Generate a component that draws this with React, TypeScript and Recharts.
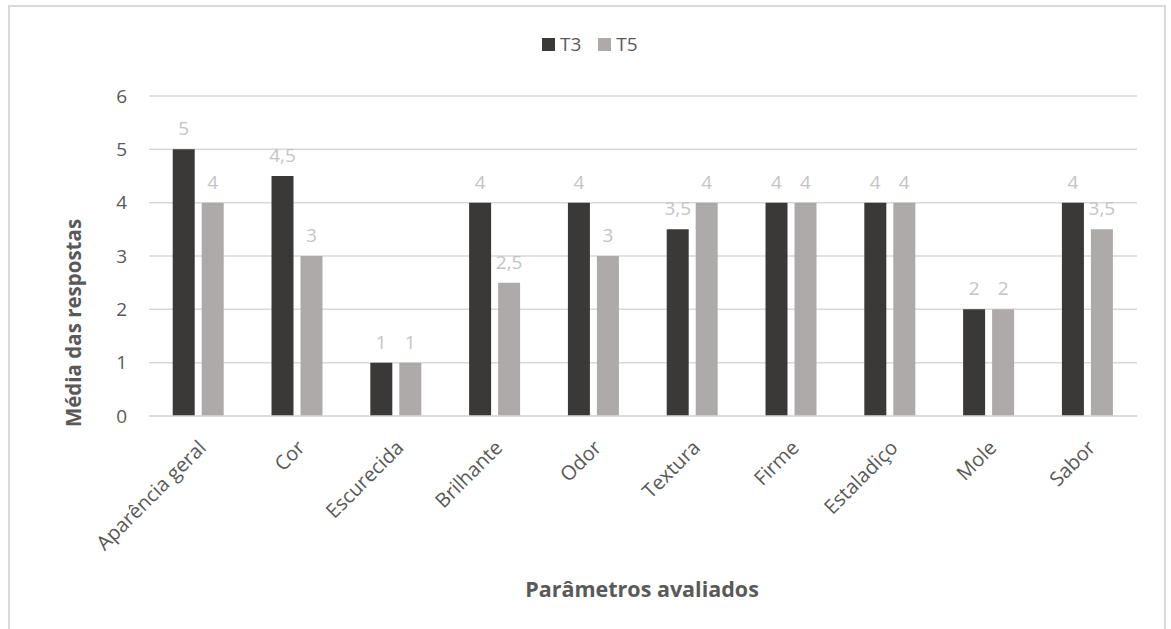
import React from "react";
import { BarChart, Bar, XAxis, YAxis, CartesianGrid, LabelList, Label } from "recharts";

const categories = ["Aparência geral", "Cor", "Escurecida", "Brilhante", "Odor", "Textura", "Firme", "Estaladiço", "Mole", "Sabor"];
const t3Values = [5, 4.5, 1, 4, 4, 3.5, 4, 4, 2, 4];
const t5Values = [4, 3, 1, 2.5, 3, 4, 4, 4, 2, 3.5];
const yTicks = [0, 1, 2, 3, 4, 5, 6];

const data = categories.map((c, i) => ({ name: c, T3: t3Values[i], T5: t5Values[i] }));

const FONT = "'Open Sans', Lato, sans-serif";
const fmt = (v: any) => String(v).replace(".", ",");

const XTick = (props: any) => {
  const { x, y, payload } = props;
  return (
    <g transform={`translate(${x + 4},${y + 20})`}>
      <text transform="rotate(-45)" textAnchor="end" fill="#595959" fontSize={20} fontFamily={FONT} dy="0.35em">
        {payload.value}
      </text>
    </g>
  );
};

const YTitle = () => (
  <text x={63} y={316} transform="rotate(-90, 63, 316)" textAnchor="middle" dominantBaseline="central" fill="#595959" fontSize={20.5} fontWeight="bold" fontFamily={FONT}>
    Média das respostas
  </text>
);

const XTitle = () => (
  <text x={632} y={581} textAnchor="middle" dominantBaseline="central" fill="#595959" fontSize={21.5} fontWeight="bold" fontFamily={FONT}>
    Parâmetros avaliados
  </text>
);

export default function App() {
  return (
    <div style={{ position: "absolute", left: 8, top: 5, width: 1154, height: 630, border: "2px solid #d9d9d9", background: "#fff" }}>
      <div style={{ position: "absolute", left: 532, top: 28, height: 19, display: "flex", alignItems: "center", fontFamily: FONT, fontSize: 19, color: "#595959", lineHeight: "19px" }}>
        <span style={{ width: 13, height: 13, background: "#3b3838", marginRight: 5, display: "inline-block" }} />
        <span style={{ marginRight: 17 }}>T3</span>
        <span style={{ width: 13, height: 13, background: "#aeaaaa", marginRight: 5, display: "inline-block" }} />
        <span>T5</span>
      </div>
      <BarChart
        width={1154}
        height={620}
        data={data}
        margin={{ top: 89, right: 27, bottom: 31, left: 79 }}
        barCategoryGap="24%"
        barGap={7}
      >
        <CartesianGrid vertical={false} stroke="#d9d9d9" strokeWidth={1.5} />
        <XAxis
          dataKey="name"
          tick={<XTick />}
          tickLine={false}
          axisLine={{ stroke: "#d9d9d9", strokeWidth: 1.5 }}
          interval={0}
          height={180}
        >
          <Label content={<XTitle />} />
        </XAxis>
        <YAxis
          domain={[0, 6]}
          ticks={yTicks}
          tickLine={false}
          axisLine={false}
          width={60}
          tick={{ fill: "#595959", fontSize: 19, fontFamily: FONT }}
          tickMargin={16}
        >
          <Label content={<YTitle />} />
        </YAxis>
        <Bar dataKey="T3" fill="#3b3838" isAnimationActive={false}>
          <LabelList dataKey="T3" position="top" offset={14} formatter={fmt} fill="#c4c4c4" fontSize={19} fontFamily={FONT} />
        </Bar>
        <Bar dataKey="T5" fill="#aeaaaa" isAnimationActive={false}>
          <LabelList dataKey="T5" position="top" offset={14} formatter={fmt} fill="#c4c4c4" fontSize={19} fontFamily={FONT} />
        </Bar>
      </BarChart>
    </div>
  );
}
